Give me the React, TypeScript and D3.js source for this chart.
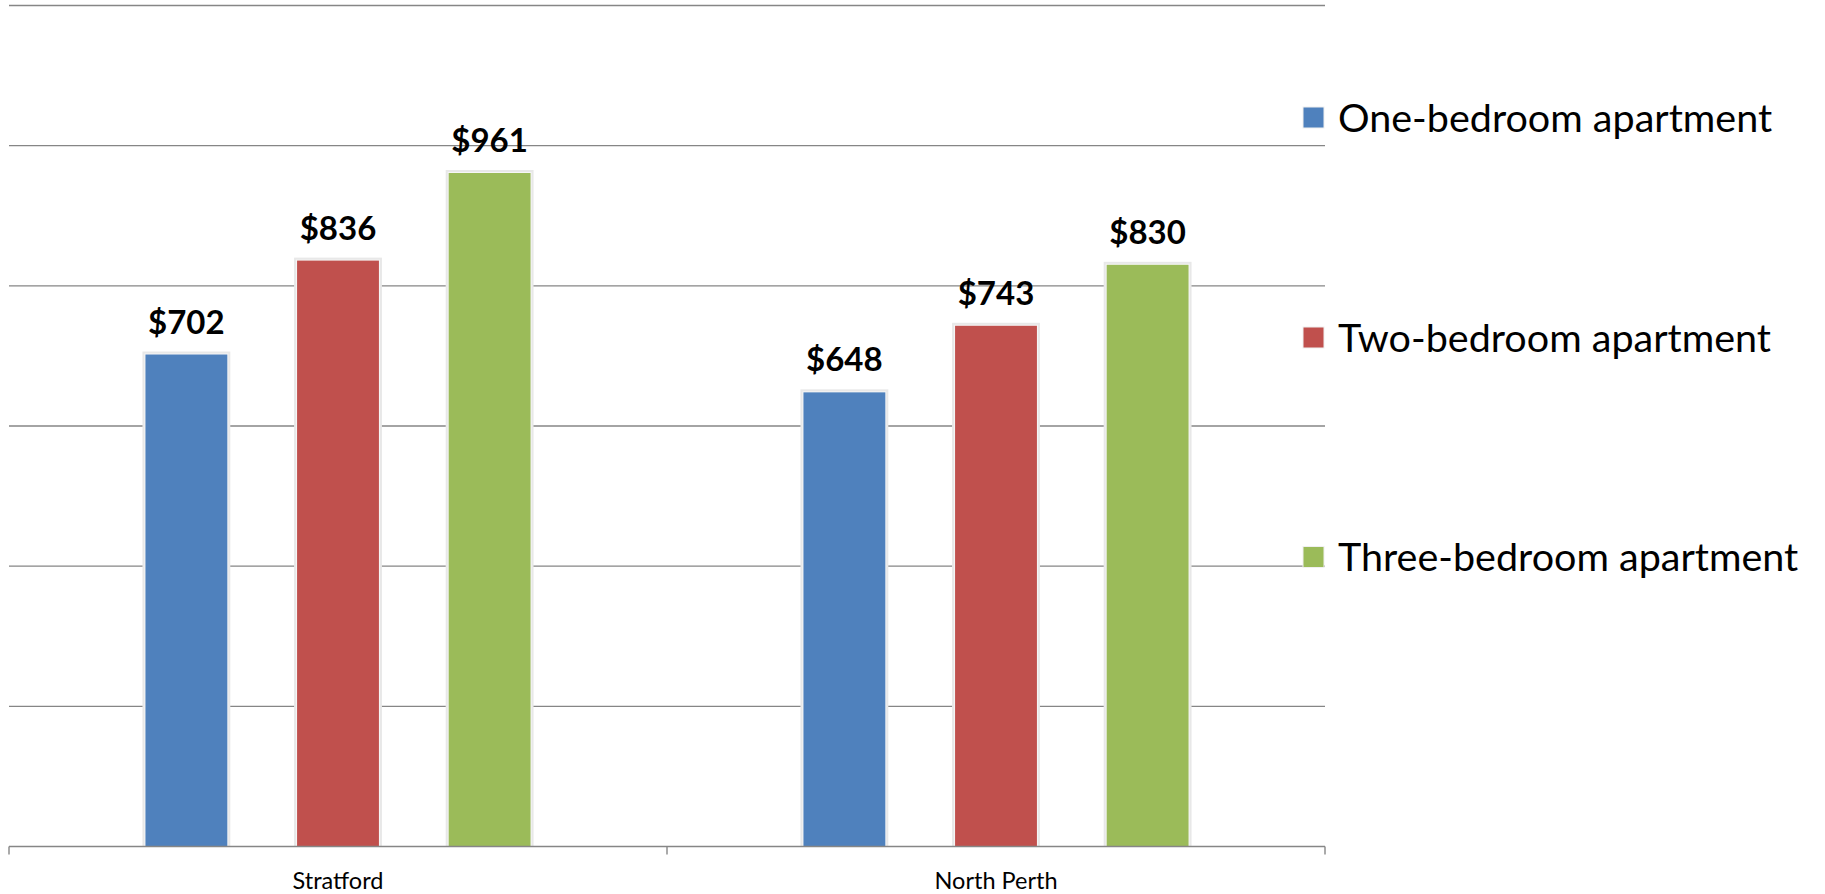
import React from "react";
import * as d3 from "d3";

const categories = ["Stratford", "North Perth"];
const seriesNames = ["One-bedroom apartment", "Two-bedroom apartment", "Three-bedroom apartment"];
const seriesColors = ["#4F81BD", "#C0504D", "#9BBB59"];
const oneBedroom = [702, 648];
const twoBedroom = [836, 743];
const threeBedroom = [961, 830];
const gridTicks = [0, 200, 400, 600, 800, 1000, 1200];

const W = 1825;
const H = 894;
const plotLeft = 9;
const plotRight = 1325;
const plotTop = 5.5;
const plotBottom = 846.5;

export default function App() {
  const seriesValues = [oneBedroom, twoBedroom, threeBedroom];
  const x0 = d3.scaleBand<string>().domain(categories).range([plotLeft, plotRight]).padding(0);
  const x1 = d3
    .scaleBand<string>()
    .domain(seriesNames)
    .range([0, x0.bandwidth()])
    .paddingInner(0.46)
    .paddingOuter(0.9);
  const y = d3.scaleLinear().domain([0, 1200]).range([plotBottom, plotTop]);
  const font = "Lato, 'Noto Sans', sans-serif";
  const gridColor = "#868686";
  const legendY = [117.5, 337.5, 557];

  return (
    <svg
      width={W}
      height={H}
      style={{ position: "absolute", left: 0, top: 0, background: "#fff" }}
    >
      {gridTicks.slice(1).map((t) => (
        <line key={t} x1={plotLeft} x2={plotRight} y1={y(t)} y2={y(t)} stroke={gridColor} strokeWidth={1.4} />
      ))}
      {categories.map((c, ci) => (
        <g key={c} transform={`translate(${x0(c)},0)`}>
          {seriesNames.map((s, si) => {
            const v = seriesValues[si][ci];
            const bx = x1(s)!;
            const bw = x1.bandwidth();
            const top = y(v);
            return (
              <g key={s}>
                <rect x={bx - 3} y={top - 3} width={bw + 6} height={plotBottom - top + 3} fill="#e8e8e8" />
                <rect x={bx - 1} y={top - 1} width={bw + 2} height={plotBottom - top + 1} fill="#f6f6f6" />
                <rect x={bx} y={top} width={bw} height={plotBottom - top} fill={seriesColors[si]} />
                <text
                  x={bx + bw / 2}
                  y={top - 21}
                  textAnchor="middle"
                  fontFamily={font}
                  fontWeight="bold"
                  fontSize={33}
                  fill="#000"
                >
                  {"$" + v}
                </text>
              </g>
            );
          })}
        </g>
      ))}
      <line x1={plotLeft} x2={plotRight} y1={plotBottom} y2={plotBottom} stroke={gridColor} strokeWidth={1.4} />
      {[...categories.map((c) => x0(c)!), plotRight].map((tx, i) => (
        <line key={i} x1={tx} x2={tx} y1={plotBottom} y2={plotBottom + 8} stroke={gridColor} strokeWidth={1.4} />
      ))}
      {categories.map((c) => (
        <text
          key={c}
          x={x0(c)! + x0.bandwidth() / 2}
          y={889}
          textAnchor="middle"
          fontFamily={font}
          fontSize={23.5}
          fill="#000"
        >
          {c}
        </text>
      ))}
      {seriesNames.map((s, i) => (
        <g key={s}>
          <rect x={1303} y={legendY[i] - 10.5} width={21} height={21} fill={seriesColors[i]} stroke="#f0f0f0" strokeWidth={1} />
          <text x={1338} y={legendY[i] + 14} fontFamily={font} fontSize={39.5} fill="#000">
            {s}
          </text>
        </g>
      ))}
    </svg>
  );
}
